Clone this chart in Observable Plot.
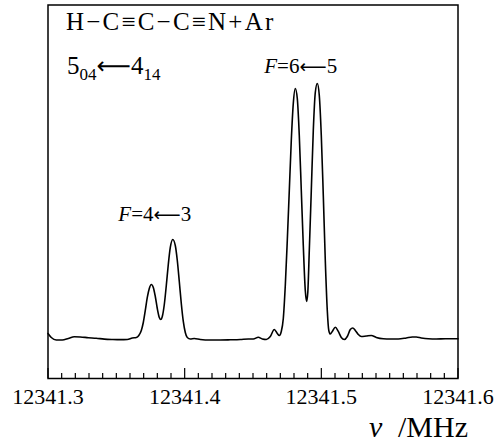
<!DOCTYPE html>
<html><head><meta charset="utf-8">
<script src="https://cdn.jsdelivr.net/npm/d3@7"></script>
<script src="https://cdn.jsdelivr.net/npm/@observablehq/plot@0.6"></script>
<style>body{margin:0;background:#fff} svg{display:block}</style>
</head><body><div id="chart"></div>
<script>
// frequency (MHz) and relative intensity
const freq = [
12341.30000,12341.30241,12341.30607,12341.31046,12341.31485,12341.31924,12341.32363,12341.32949,12341.33534,12341.34119,
12341.34705,12341.35290,12341.35802,12341.36168,12341.36461,12341.36644,12341.36827,12341.36973,12341.37119,12341.37266,
12341.37412,12341.37558,12341.37705,12341.37851,12341.37997,12341.38144,12341.38253,12341.38363,12341.38510,12341.38656,
12341.38802,12341.38949,12341.39131,12341.39314,12341.39461,12341.39607,12341.39753,12341.39900,12341.40046,12341.40192,
12341.40412,12341.40705,12341.41144,12341.41875,12341.42607,12341.43339,12341.44070,12341.44656,12341.45022,12341.45387,
12341.45680,12341.45973,12341.46266,12341.46558,12341.46778,12341.46924,12341.47070,12341.47217,12341.47363,12341.47509,
12341.47656,12341.47802,12341.47948,12341.48095,12341.48241,12341.48387,12341.48534,12341.48680,12341.48826,12341.48921,
12341.49009,12341.49119,12341.49266,12341.49412,12341.49558,12341.49705,12341.49851,12341.49997,12341.50144,12341.50290,
12341.50436,12341.50546,12341.50656,12341.50802,12341.51022,12341.51241,12341.51461,12341.51680,12341.51900,12341.52119,
12341.52302,12341.52485,12341.52705,12341.52924,12341.53290,12341.53656,12341.54022,12341.54534,12341.55046,12341.55631,
12341.56217,12341.56656,12341.56948,12341.57314,12341.57826,12341.58412,12341.59070,12341.60000
];
const intensity = [
0.0196,0.0039,-0.0059,-0.0059,0.0000,0.0067,0.0059,0.0031,0.0008,-0.0024,
-0.0039,-0.0047,-0.0039,0.0020,0.0039,0.0118,0.0314,0.0627,0.1098,0.1608,
0.1961,0.2118,0.2000,0.1647,0.1176,0.0824,0.0745,0.0863,0.1333,0.2078,
0.2902,0.3569,0.3882,0.3647,0.3059,0.2235,0.1373,0.0667,0.0235,0.0039,
-0.0020,0.0000,-0.0039,-0.0059,-0.0059,-0.0051,-0.0039,-0.0020,-0.0020,0.0047,
-0.0020,-0.0039,0.0078,0.0353,0.0196,0.0118,0.0275,0.0784,0.2078,0.3843,
0.5804,0.7765,0.9216,0.9804,0.9412,0.7961,0.5804,0.3647,0.1882,0.1451,
0.1804,0.3451,0.5804,0.8157,0.9647,1.0000,0.9529,0.7961,0.5608,0.3059,
0.1098,0.0314,0.0176,0.0275,0.0443,0.0275,0.0039,-0.0039,0.0078,0.0353,
0.0412,0.0314,0.0157,0.0078,0.0098,0.0118,0.0039,-0.0012,-0.0020,-0.0020,
0.0020,0.0059,0.0059,0.0020,-0.0012,-0.0020,-0.0012,-0.0012
];
const majorTicks = [12341.3, 12341.4, 12341.5, 12341.6];
const minorTicks = d3.range(1, 30).map(i => +(12341.3 + i * 0.01).toFixed(2)).filter(t => !majorTicks.includes(t));
const labelUpper = ["4", "6"];
const labelLower = ["3", "5"];
const labelX = [12341.3785, 12341.4853];
const labelY = [0.459, 1.039];

const data = freq.map((f, i) => ({f, v: intensity[i]}));
const W = 495, H = 443, mT = 4.5, mB = 65, mL = 47.5, mR = 37.5;
const innerH = H - mT - mB;
const serif = "'Liberation Serif', 'Times New Roman', serif";
const arrowFont = "'DejaVu Sans', sans-serif";

const chart = Plot.plot({
  width: W, height: H,
  marginLeft: mL, marginRight: mR, marginTop: mT, marginBottom: mB,
  x: {domain: [12341.3, 12341.6], axis: null},
  y: {domain: [-0.157, 1.308], axis: null},
  style: {fontFamily: serif, background: "white", color: "black"},
  marks: [
    Plot.tickX(minorTicks, {x: d => d, insetTop: innerH - 5, stroke: "black", strokeWidth: 1.2}),
    Plot.tickX(majorTicks, {x: d => d, insetTop: innerH - 10, stroke: "black", strokeWidth: 1.2}),
    Plot.line(data, {x: "f", y: "v", curve: "monotone-x", stroke: "black", strokeWidth: 1.6}),
    Plot.frame({stroke: "black", strokeWidth: 1.5}),
    Plot.text(majorTicks, {x: d => d, frameAnchor: "bottom", lineAnchor: "top", dy: 10, text: d => d.toFixed(1), fontSize: 22, fill: "black"})
  ]
});
document.getElementById("chart").appendChild(chart);

const svg = d3.select(chart);
const sx = chart.scale("x"), sy = chart.scale("y");
const g = svg.append("g").attr("font-family", serif).attr("fill", "black").attr("text-anchor", "start");

// molecule title
g.append("text").attr("x", 66).attr("y", 30).attr("font-size", 25).attr("letter-spacing", 2.2).text("H−C≡C−C≡N+Ar");

// rotational transition
const t2 = g.append("text").attr("x", 67).attr("y", 74).attr("font-size", 25);
t2.append("tspan").text("5");
t2.append("tspan").attr("font-size", 17).attr("dy", 6).text("04");
t2.append("tspan").attr("dy", -6).attr("font-family", arrowFont).attr("font-size", 24).text("⟵");
t2.append("tspan").text("4");
t2.append("tspan").attr("font-size", 17).attr("dy", 6).text("14");

// hyperfine labels
labelUpper.forEach((u, i) => {
  const t = g.append("text").attr("x", sx.apply(labelX[i])).attr("y", sy.apply(labelY[i]))
    .attr("font-size", 21).attr("text-anchor", "middle");
  t.append("tspan").attr("font-style", "italic").text("F");
  t.append("tspan").text("=" + u);
  t.append("tspan").attr("font-family", arrowFont).attr("font-size", 19).text("⟵");
  t.append("tspan").text(labelLower[i]);
});

// axis title
g.append("text").attr("x", 369).attr("y", 437).attr("font-size", 30).attr("font-style", "italic").text("ν");
g.append("text").attr("x", 468).attr("y", 437).attr("font-size", 30).attr("text-anchor", "end").text("/MHz");
</script>
</body></html>
